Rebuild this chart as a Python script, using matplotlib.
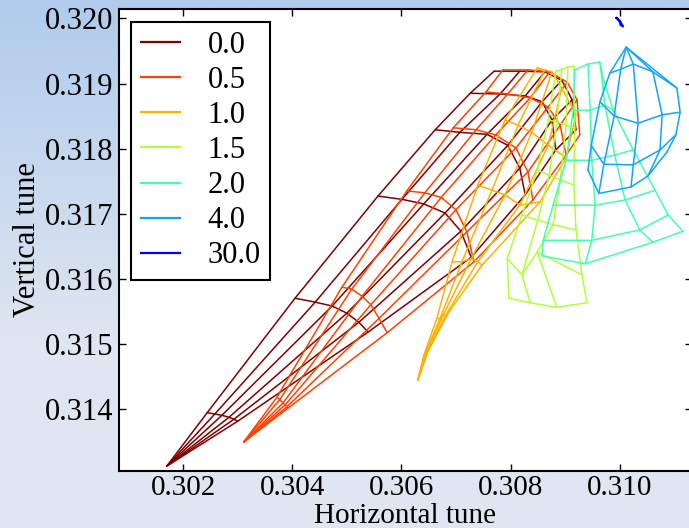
import numpy as np
import matplotlib
matplotlib.use("Agg")
import matplotlib.pyplot as plt
from matplotlib.ticker import FixedLocator, FormatStrFormatter

plt.rcParams['font.family'] = ['Liberation Serif', 'DejaVu Serif']

labels = ["0.0", "0.5", "1.0", "1.5", "2.0", "4.0", "30.0"]
colors = ["#800000", "#ff4000", "#ffb000", "#b0ff3a", "#40ffb0", "#10a4ff", "#0000ff"]

# footprint grids: rows = detuning lines (angle), columns = amplitude steps
qx_00 = [
    [0.30170, 0.30244, 0.30405, 0.30557, 0.30662, 0.30726, 0.30770],
    [0.30170, 0.30258, 0.30442, 0.30601, 0.30707, 0.30781, 0.30817],
    [0.30170, 0.30271, 0.30473, 0.30641, 0.30757, 0.30827, 0.30863],
    [0.30170, 0.30284, 0.30500, 0.30680, 0.30795, 0.30858, 0.30894],
    [0.30170, 0.30293, 0.30522, 0.30709, 0.30817, 0.30876, 0.30913],
    [0.30170, 0.30300, 0.30539, 0.30728, 0.30827, 0.30883, 0.30920],
]
qy_00 = [
    [0.31312, 0.31394, 0.31570, 0.31727, 0.31829, 0.31885, 0.31919],
    [0.31312, 0.31392, 0.31564, 0.31722, 0.31825, 0.31884, 0.31919],
    [0.31312, 0.31390, 0.31558, 0.31715, 0.31822, 0.31881, 0.31918],
    [0.31312, 0.31387, 0.31547, 0.31701, 0.31805, 0.31872, 0.31905],
    [0.31312, 0.31384, 0.31533, 0.31673, 0.31770, 0.31844, 0.31875],
    [0.31312, 0.31381, 0.31518, 0.31633, 0.31729, 0.31798, 0.31829],
]
qx_05 = [
    [0.30311, 0.30372, 0.30491, 0.30610, 0.30695, 0.30755, 0.30786],
    [0.30311, 0.30377, 0.30509, 0.30643, 0.30737, 0.30795, 0.30832],
    [0.30311, 0.30383, 0.30528, 0.30673, 0.30773, 0.30836, 0.30872],
    [0.30311, 0.30387, 0.30544, 0.30700, 0.30810, 0.30869, 0.30904],
    [0.30311, 0.30390, 0.30559, 0.30720, 0.30832, 0.30891, 0.30922],
    [0.30311, 0.30392, 0.30574, 0.30733, 0.30841, 0.30902, 0.30927],
]
qy_05 = [
    [0.31349, 0.31418, 0.31587, 0.31735, 0.31832, 0.31887, 0.31921],
    [0.31349, 0.31414, 0.31584, 0.31732, 0.31829, 0.31884, 0.31921],
    [0.31349, 0.31409, 0.31573, 0.31725, 0.31821, 0.31878, 0.31918],
    [0.31349, 0.31406, 0.31560, 0.31706, 0.31801, 0.31864, 0.31902],
    [0.31349, 0.31403, 0.31539, 0.31672, 0.31764, 0.31836, 0.31875],
    [0.31349, 0.31401, 0.31517, 0.31626, 0.31721, 0.31790, 0.31821],
]
qx_10 = [
    [0.30630, 0.30641, 0.30665, 0.30693, 0.30740, 0.30790, 0.30849],
    [0.30630, 0.30643, 0.30671, 0.30711, 0.30766, 0.30814, 0.30863],
    [0.30630, 0.30645, 0.30676, 0.30728, 0.30790, 0.30839, 0.30876],
    [0.30630, 0.30647, 0.30682, 0.30740, 0.30817, 0.30869, 0.30894],
    [0.30630, 0.30649, 0.30687, 0.30748, 0.30854, 0.30902, 0.30920],
]
qy_10 = [
    [0.31444, 0.31482, 0.31539, 0.31626, 0.31744, 0.31844, 0.31924],
    [0.31444, 0.31484, 0.31539, 0.31626, 0.31736, 0.31836, 0.31921],
    [0.31444, 0.31485, 0.31543, 0.31631, 0.31729, 0.31825, 0.31918],
    [0.31444, 0.31487, 0.31545, 0.31626, 0.31713, 0.31805, 0.31893],
    [0.31444, 0.31489, 0.31549, 0.31621, 0.31718, 0.31786, 0.31852],
]
qx_15 = [
    [0.30883, 0.30869, 0.30849, 0.30821, 0.30794, 0.30797],
    [0.30894, 0.30885, 0.30871, 0.30850, 0.30821, 0.30836],
    [0.30905, 0.30902, 0.30891, 0.30878, 0.30849, 0.30885],
    [0.30916, 0.30918, 0.30916, 0.30920, 0.30931, 0.30940],
]
qy_15 = [
    [0.31919, 0.31844, 0.31767, 0.31698, 0.31631, 0.31570],
    [0.31922, 0.31841, 0.31759, 0.31690, 0.31606, 0.31563],
    [0.31925, 0.31836, 0.31752, 0.31683, 0.31641, 0.31556],
    [0.31927, 0.31832, 0.31744, 0.31675, 0.31606, 0.31563],
]
qx_20 = [
    [0.30918, 0.30915, 0.30902, 0.30878, 0.30860, 0.30858],
    [0.30942, 0.30946, 0.30949, 0.30955, 0.30949, 0.30937],
    [0.30964, 0.30973, 0.30991, 0.31010, 0.31037, 0.31061],
    [0.30969, 0.30988, 0.31025, 0.31065, 0.31089, 0.31116],
]
qy_20 = [
    [0.31921, 0.31859, 0.31782, 0.31713, 0.31659, 0.31635],
    [0.31930, 0.31859, 0.31782, 0.31713, 0.31659, 0.31623],
    [0.31933, 0.31867, 0.31790, 0.31721, 0.31675, 0.31656],
    [0.31910, 0.31859, 0.31798, 0.31736, 0.31698, 0.31673],
]
qx_40 = [
    [0.31012, 0.30982, 0.30964, 0.30948, 0.30942],
    [0.31012, 0.31002, 0.30990, 0.30971, 0.30962],
    [0.31012, 0.31025, 0.31034, 0.31025, 0.31021],
    [0.31012, 0.31061, 0.31078, 0.31074, 0.31052],
    [0.31012, 0.31105, 0.31111, 0.31103, 0.31087],
]
qy_40 = [
    [0.31956, 0.31916, 0.31872, 0.31805, 0.31767],
    [0.31956, 0.31922, 0.31850, 0.31776, 0.31731],
    [0.31956, 0.31930, 0.31839, 0.31775, 0.31741],
    [0.31956, 0.31918, 0.31852, 0.31798, 0.31758],
    [0.31956, 0.31893, 0.31856, 0.31821, 0.31795],
]
qx_300 = [
    [0.30994, 0.31000, 0.31002],
    [0.30995, 0.31001, 0.31006],
]
qy_300 = [
    [0.32001, 0.31996, 0.31990],
    [0.32001, 0.31995, 0.31988],
]

footprints = [(qx_00, qy_00), (qx_05, qy_05), (qx_10, qy_10), (qx_15, qy_15),
              (qx_20, qy_20), (qx_40, qy_40), (qx_300, qy_300)]

xticks = [0.302, 0.304, 0.306, 0.308, 0.310]
yticks = [0.314, 0.315, 0.316, 0.317, 0.318, 0.319, 0.320]

W, H = 689, 528
fig = plt.figure(figsize=(W / 100, H / 100), dpi=100)

# background gradient
bg = fig.add_axes([0, 0, 1, 1], zorder=-10)
top = np.array([176, 203, 235]) / 255.0
bot = np.array([223, 230, 241]) / 255.0
t = np.clip(np.linspace(0, 1, 256) / 0.65, 0, 1)[:, None]
grad = top[None, :] * (1 - t) + bot[None, :] * t
bg.imshow(grad[:, None, :], aspect='auto', extent=[0, 1, 0, 1], origin='upper')
bg.set_axis_off()

ax = fig.add_axes([118.6 / W, 1 - 471.0 / H, (692.0 - 118.6) / W, (471.0 - 8.8) / H])
ax.set_facecolor('white')

for (qx, qy), lab, col in zip(footprints, labels, colors):
    qx = np.array(qx)
    qy = np.array(qy)
    lw = 1.6 if lab == "30.0" else 1.1
    for i in range(qx.shape[0]):
        ax.plot(qx[i], qy[i], color=col, lw=lw, solid_capstyle='round')
    for j in range(qx.shape[1]):
        ax.plot(qx[:, j], qy[:, j], color=col, lw=lw, solid_capstyle='round')
    ax.plot([], [], color=col, lw=1.6, label=lab)

ax.set_xlim(0.300816, 0.311327)
ax.set_ylim(0.313044, 0.320149)
ax.xaxis.set_major_locator(FixedLocator(xticks))
ax.yaxis.set_major_locator(FixedLocator(yticks))
ax.xaxis.set_major_formatter(FormatStrFormatter('%.3f'))
ax.yaxis.set_major_formatter(FormatStrFormatter('%.3f'))
ax.tick_params(direction='in', top=True, right=True, length=5, width=1,
               labelsize=22, pad=4)
ax.tick_params(axis='x', labelsize=21, pad=3)
for s in ax.spines.values():
    s.set_linewidth(1.5)

ax.set_xlabel("Horizontal tune", fontsize=21, labelpad=1)
ax.set_ylabel("Vertical tune", fontsize=22, labelpad=2)

leg = ax.legend(loc='upper left', fontsize=22, frameon=True, fancybox=False,
                framealpha=1, edgecolor='black', borderaxespad=0.42,
                labelspacing=0.2, handlelength=1.3, handletextpad=0.9,
                borderpad=0.3)
leg.get_frame().set_linewidth(1.5)

fig.savefig("out.png", dpi=100)
